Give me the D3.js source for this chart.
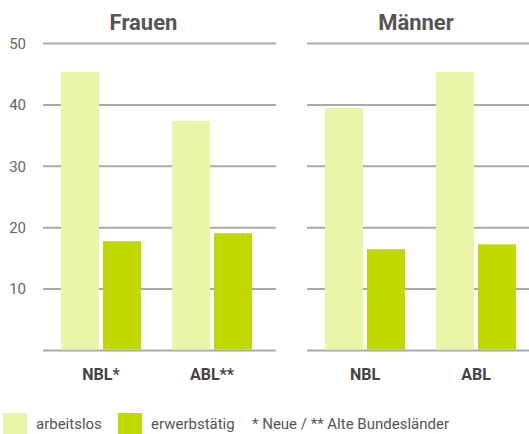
<!DOCTYPE html>
<html>
<head>
<meta charset="utf-8">
<script src="https://cdn.jsdelivr.net/npm/d3@7"></script>
<style>
  body { margin: 0; background: #fff; }
  svg { display: block; font-family: Roboto, "Open Sans", sans-serif; }
</style>
</head>
<body>
<div id="chart"></div>
<script>
const width = 529;
const height = 434;

// data
const panels = ["Frauen", "Männer"];
const groups = ["NBL", "ABL"];
const groupLabels = {
  Frauen: ["NBL*", "ABL**"],
  "Männer": ["NBL", "ABL"]
};
const series = ["arbeitslos", "erwerbstätig"];
const arbeitslos = { Frauen: [45.4, 37.4], "Männer": [39.5, 45.4] };
const erwerbstaetig = { Frauen: [17.8, 19.1], "Männer": [16.5, 17.3] };
const yTicks = [10, 20, 30, 40, 50];
const note = "* Neue / ** Alte Bundesländer";

const colors = { arbeitslos: "#eaf5a8", "erwerbstätig": "#bed800" };

const svg = d3.select("#chart")
  .append("svg")
  .attr("width", width)
  .attr("height", height);

const y = d3.scaleLinear().domain([0, 50]).range([350.5, 43.5]);

// panel extents
const panelX = d3.scaleOrdinal().domain(panels).range([[43, 276], [307, 529]]);

// tick labels
svg.selectAll(".ytick")
  .data(yTicks)
  .enter()
  .append("text")
  .attr("class", "ytick")
  .attr("x", 26)
  .attr("y", d => y(d))
  .attr("dy", "0.35em")
  .attr("text-anchor", "end")
  .attr("font-size", 15)
  .attr("fill", "#666")
  .text(d => d);

panels.forEach(p => {
  const [x0, x1] = panelX(p);
  const g = svg.append("g");

  // gridlines incl. baseline
  g.selectAll(".grid")
    .data([0].concat(yTicks))
    .enter()
    .append("line")
    .attr("x1", x0)
    .attr("x2", x1)
    .attr("y1", d => y(d))
    .attr("y2", d => y(d))
    .attr("stroke", "#aaa")
    .attr("stroke-width", 2);

  const x = d3.scaleBand().domain(groups).range([x0 + 18, x0 + 209]).paddingInner(0.28);
  const xs = d3.scaleBand().domain(series).range([0, x.bandwidth()]).paddingInner(0.095);

  const rows = groups.map((grp, i) => ({
    grp: grp,
    label: groupLabels[p][i],
    values: [
      { s: "arbeitslos", v: arbeitslos[p][i] },
      { s: "erwerbstätig", v: erwerbstaetig[p][i] }
    ]
  }));

  const cat = g.selectAll(".cat")
    .data(rows)
    .enter()
    .append("g")
    .attr("transform", d => `translate(${x(d.grp)},0)`);

  cat.selectAll("rect")
    .data(d => d.values)
    .enter()
    .append("rect")
    .attr("x", d => xs(d.s))
    .attr("y", d => y(d.v))
    .attr("width", xs.bandwidth())
    .attr("height", d => y(0) - y(d.v) - 1)
    .attr("fill", d => colors[d.s]);

  cat.append("text")
    .attr("x", x.bandwidth() / 2)
    .attr("y", 380)
    .attr("text-anchor", "middle")
    .attr("font-size", 16)
    .attr("font-weight", "bold")
    .attr("fill", "#444")
    .text(d => d.label);

  // panel title
  svg.append("text")
    .attr("x", (x0 + x1) / 2 + (p === "Frauen" ? -16 : -2))
    .attr("y", 30)
    .attr("text-anchor", "middle")
    .attr("font-size", 22)
    .attr("font-weight", "bold")
    .attr("fill", "#555")
    .text(p);
});

// legend
const legend = svg.append("g");
const legendX = [3, 118];
series.forEach((s, i) => {
  legend.append("rect")
    .attr("x", legendX[i])
    .attr("y", 413)
    .attr("width", 24)
    .attr("height", 21)
    .attr("fill", colors[s]);
  legend.append("text")
    .attr("x", legendX[i] + 33)
    .attr("y", 429)
    .attr("font-size", 15)
    .attr("fill", "#555")
    .text(s);
});
legend.append("text")
  .attr("x", 252)
  .attr("y", 429)
  .attr("font-size", 15)
  .attr("fill", "#555")
  .text(note);
</script>
</body>
</html>
